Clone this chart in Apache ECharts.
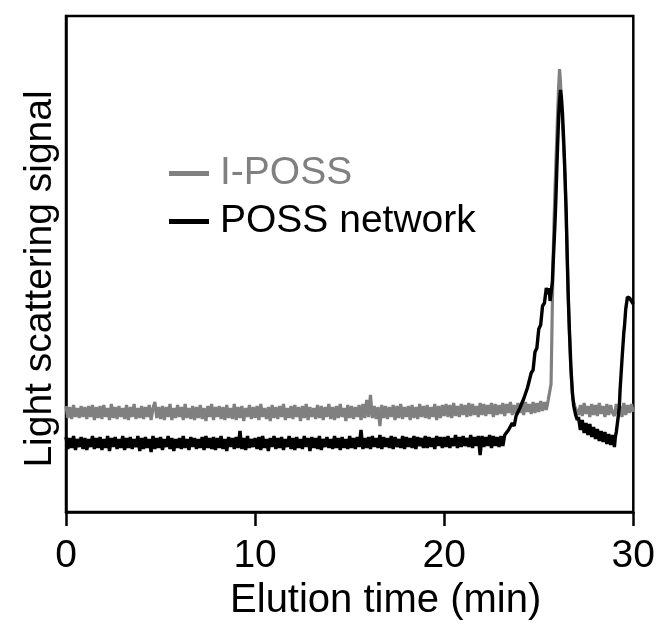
<!DOCTYPE html>
<html>
<head>
<meta charset="utf-8">
<script src="https://cdn.jsdelivr.net/npm/echarts@6/dist/echarts.min.js"></script>
<style>
html,body{margin:0;padding:0;background:#fff;}
#chart{width:658px;height:639px;}
</style>
</head>
<body>
<div id="chart"></div>
<script>
// ---- Data ----
const xTicks = [0, 10, 20, 30];
const seriesNames = ['I-POSS', 'POSS network'];
const baseStep = 0.1; // sampling interval (min) of the baseline segments

// I-POSS baseline, t = 0.0 ... 25.5 min, every 0.1 min
const grayBaseValues = [
  106,94,105,93,107,95,104,94,106,95,
  105,93,106,95,107,92,105,94,106,93,
  107,95,104,92,108,94,105,93,106,95,
  104,93,107,92,105,95,108,93,104,94,
  106,93,105,95,107,92,104,110,94,105,
  93,106,92,105,95,108,92,104,94,107,
  95,105,92,108,94,104,93,106,92,105,
  94,107,93,104,91,106,95,108,92,105,
  95,106,93,105,92,107,94,104,93,108,
  92,105,94,106,91,104,95,107,93,105,
  94,106,92,108,95,104,93,105,91,107,
  94,105,93,106,95,108,92,104,94,106,
  93,107,95,105,91,106,94,108,92,105,
  95,104,93,107,94,106,92,105,95,108,
  93,105,92,106,94,108,95,104,91,107,
  94,106,93,105,95,107,92,108,94,112,
  95,117,94,106,93,105,86,107,94,106,
  93,105,95,107,92,106,94,108,93,105,
  95,106,92,107,94,105,93,108,95,106,
  94,107,93,105,95,108,92,106,94,107,
  96,108,95,107,94,109,96,106,95,108,
  97,107,95,109,96,108,97,106,95,109,
  97,108,96,107,98,109,95,108,97,107,
  98,109,96,108,99,110,97,107,98,109,
  99,109,97,110,100,108,98,110,99,109,
  100,111,101,110,102,112
];
// I-POSS peak
const grayPeakTimes  = [25.6,25.65,25.7,25.75,25.8,25.85,25.9,25.95,26.0,26.05,26.1,26.15,26.2,26.25,26.3,26.35,26.4,26.45,26.5,26.55,26.6,26.7,26.8,26.9];
const grayPeakValues = [110,128,185,245,285,318,345,372,400,425,443,430,405,390,372,352,330,295,258,222,190,140,113,106];
// I-POSS tail, t = 27.0 ... 30.0 min, every 0.1 min
const grayTailStart = 27.0;
const grayTailValues = [
  108,97,107,96,109,98,106,95,108,97,
  107,96,109,98,106,95,108,97,107,99,
  96,108,98,106,95,109,97,107,99,108,
  100
];

// POSS network baseline, t = 0.0 ... 23.2 min, every 0.1 min
const blackBaseValues = [
  75,63,74,64,76,62,73,65,75,63,
  74,62,73,65,76,63,74,64,75,62,
  73,64,76,61,74,65,75,63,73,64,
  76,62,74,64,75,63,73,65,76,61,
  74,63,75,64,73,60,76,63,74,64,
  75,62,73,65,76,63,74,61,73,64,
  74,63,76,64,73,62,75,65,74,63,
  73,64,75,62,76,64,74,63,75,62,
  74,64,76,63,73,61,75,65,74,63,
  75,64,81,63,74,62,76,64,73,65,
  74,63,75,62,76,64,73,61,74,65,
  76,63,74,64,75,62,73,65,76,63,
  74,62,75,64,73,63,76,65,74,61,
  75,64,74,63,76,62,73,65,75,64,
  73,63,76,64,74,62,75,64,73,63,
  76,64,74,63,75,65,82,63,74,64,
  75,63,76,65,74,64,77,63,75,65,
  74,64,76,63,75,65,73,64,76,63,
  75,65,74,64,76,63,75,66,74,64,
  76,64,75,65,74,63,76,66,75,64,
  75,65,76,64,74,66,77,64,75,65,
  76,66,74,65,77,64,75,66,76,57,
  76,65,75,66,77,64,76,66,75,65,
  76,66,77
];
// POSS network: rise, shoulder, peak, tail and late peak
const blackPeakTimes = [
  23.3,23.4,23.5,23.6,23.7,23.8,23.9,24.0,24.1,24.2,24.3,24.4,24.5,24.6,24.7,24.8,24.9,25.0,25.1,25.2,25.3,25.4,
  25.45,25.5,25.55,25.6,25.67,25.72,25.77,25.85,25.9,25.97,26.05,26.1,26.15,26.2,26.25,26.3,26.36,26.45,26.51,26.56,26.62,26.7,26.78,26.85,26.95,27.04,
  27.1,27.2,27.3,27.4,27.5,27.6,27.7,27.8,27.9,28.0,28.1,28.2,28.3,28.4,28.5,28.6,28.7,28.8,28.9,29.0,29.05,
  29.1,29.2,29.26,29.3,29.4,29.5,29.53,29.6,29.69,29.8,29.9,30.0
];
const blackPeakValues = [
  76,82,80,89,86,96,94,104,102,113,112,124,125,139,142,160,164,183,187,206,209,224,
  226,218,224,211,209,230,252,285,310,352,395,412,422,414,400,380,352,300,252,215,182,145,119,106,97,92,
  95,82,92,79,89,77,88,75,85,73,83,71,81,70,80,68,78,67,77,65,75,
  80,95,105,122,152,180,185,203,215,214,212,208
];

// ---- Build series data ----
function uniform(start, values) {
  return values.map((v, i) => [+(start + i * baseStep).toFixed(2), v]);
}
function paired(times, values) {
  return times.map((t, i) => [t, values[i]]);
}
const grayData = uniform(0, grayBaseValues)
  .concat(paired(grayPeakTimes, grayPeakValues))
  .concat(uniform(grayTailStart, grayTailValues));
const blackData = uniform(0, blackBaseValues)
  .concat(paired(blackPeakTimes, blackPeakValues));

const FONT = 'Liberation Sans, Arial, sans-serif';
const chart = echarts.init(document.getElementById('chart'), null, {renderer: 'canvas'});
chart.setOption({
  animation: false,
  backgroundColor: '#fff',
  grid: {
    left: 66, right: 24, top: 16, bottom: 127,
    show: true, borderColor: '#000', borderWidth: 2.5, backgroundColor: 'transparent'
  },
  legend: {
    left: 164, top: 149, orient: 'vertical',
    itemWidth: 40, itemHeight: 5, itemGap: 9, icon: 'rect',
    textStyle: {fontSize: 39, fontFamily: FONT, padding: [0, 0, 0, 6]},
    data: [
      {name: seriesNames[0], textStyle: {color: '#808080'}},
      {name: seriesNames[1], textStyle: {color: '#000'}}
    ]
  },
  xAxis: {
    type: 'value', min: xTicks[0], max: xTicks[xTicks.length - 1], interval: 10,
    name: 'Elution time (min)', nameLocation: 'middle', nameGap: 66,
    nameTextStyle: {fontSize: 40, fontFamily: FONT, color: '#000', padding: [0, 0, 0, 72]},
    axisLine: {show: true, lineStyle: {color: '#000', width: 2.5}},
    axisTick: {show: true, inside: false, length: 14, lineStyle: {color: '#000', width: 2.5}},
    axisLabel: {fontSize: 39, fontFamily: FONT, color: '#000', margin: 25},
    splitLine: {show: false}
  },
  yAxis: {
    type: 'value', min: 0, max: 496,
    name: 'Light scattering signal', nameLocation: 'middle', nameGap: 6, nameRotate: 90,
    nameTextStyle: {fontSize: 39, fontFamily: FONT, color: '#000', padding: [0, 30, 0, 0]},
    axisLine: {show: true, lineStyle: {color: '#000', width: 2.5}},
    axisTick: {show: false},
    axisLabel: {show: false},
    splitLine: {show: false}
  },
  series: [
    {
      name: seriesNames[0], type: 'line', data: grayData, showSymbol: false,
      lineStyle: {color: '#808080', width: 3.2}, itemStyle: {color: '#808080'}, z: 2
    },
    {
      name: seriesNames[1], type: 'line', data: blackData, showSymbol: false,
      lineStyle: {color: '#000', width: 3.4}, itemStyle: {color: '#000'}, z: 3
    }
  ]
});
</script>
</body>
</html>
